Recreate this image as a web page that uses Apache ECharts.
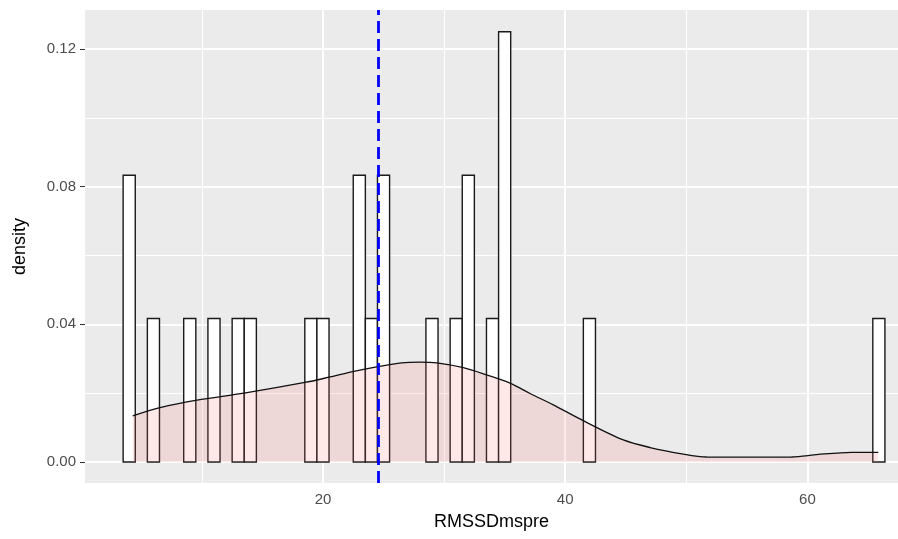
<!DOCTYPE html>
<html>
<head>
<meta charset="utf-8">
<script src="https://cdn.jsdelivr.net/npm/echarts@6/dist/echarts.min.js"></script>
<style>
  html, body { margin: 0; padding: 0; background: #fff; }
  #chart { width: 898px; height: 539px; }
</style>
</head>
<body>
<div id="chart"></div>
<script>
// histogram bins (binwidth 1), y = density
const binCenters = [4, 6, 9, 11, 13, 14, 19, 20, 23, 24, 25, 29, 31, 32, 34, 35, 42, 65.9]
const binDensity = [0.0833, 0.0417, 0.0417, 0.0417, 0.0417, 0.0417, 0.0417, 0.0417, 0.0833, 0.0417, 0.0833, 0.0417, 0.0417, 0.0833, 0.0417, 0.125, 0.0417, 0.0417]
const binWidth = 1

// kernel density curve
const densX = [4.29, 6.54, 9.60, 13.48, 18.51, 20.58, 22.54, 24.54, 26.50, 28.0, 29.39, 31.59, 33.5, 35.44, 37.1, 39.02, 41.49, 44.80, 47.01, 49.75, 51.68, 55.0, 58.70, 60.90, 63.66, 65.85]
const densY = [0.0134, 0.0158, 0.0180, 0.0200, 0.0231, 0.0247, 0.0263, 0.0277, 0.0288, 0.0290, 0.0288, 0.0274, 0.0253, 0.0229, 0.0199, 0.0166, 0.0120, 0.0064, 0.0042, 0.0023, 0.00145, 0.0014, 0.00145, 0.0022, 0.0028, 0.0028]

const meanValue = 24.54

// axis ticks
const xTicks = [20, 40, 60]
const xMinor = [10, 30, 50]
const yTicks = [0, 0.04, 0.08, 0.12]
const yMinor = [0.02, 0.06, 0.10]

const chart = echarts.init(document.getElementById('chart'))

const textFont = 'Liberation Sans, Arial, sans-serif'

let gridLines = []
xTicks.forEach(v => gridLines.push({ xAxis: v, lineStyle: { width: 2 } }))
xMinor.forEach(v => gridLines.push({ xAxis: v, lineStyle: { width: 1 } }))
yTicks.forEach(v => gridLines.push({ yAxis: v, lineStyle: { width: 2 } }))
yMinor.forEach(v => gridLines.push({ yAxis: v, lineStyle: { width: 1 } }))

chart.setOption({
  animation: false,
  grid: {
    left: 85,
    right: 0,
    top: 10,
    bottom: 56,
    show: true,
    backgroundColor: '#EBEBEB',
    borderWidth: 0
  },
  xAxis: {
    type: 'value',
    min: 0.35,
    max: 67.48,
    name: 'RMSSDmspre',
    nameLocation: 'middle',
    nameGap: 30,
    nameTextStyle: { color: '#000', fontSize: 18, fontFamily: textFont },
    axisLine: { show: false },
    axisTick: { show: true, customValues: xTicks, length: 5, lineStyle: { color: '#333', width: 1 } },
    axisLabel: { customValues: xTicks, color: '#4D4D4D', fontSize: 15, margin: 9, fontFamily: textFont },
    splitLine: { show: false }
  },
  yAxis: {
    type: 'value',
    min: -0.0061,
    max: 0.1313,
    name: 'density',
    nameLocation: 'middle',
    nameGap: 56,
    nameRotate: 90,
    nameTextStyle: { color: '#000', fontSize: 18, fontFamily: textFont },
    axisLine: { show: false },
    axisTick: { show: true, customValues: yTicks, length: 5, lineStyle: { color: '#333', width: 1 } },
    axisLabel: {
      customValues: yTicks,
      color: '#4D4D4D',
      fontSize: 15,
      margin: 9,
      fontFamily: textFont,
      formatter: v => v.toFixed(2)
    },
    splitLine: { show: false }
  },
  series: [
    {
      // panel grid lines
      type: 'line',
      data: [],
      silent: true,
      markLine: {
        silent: true,
        z: 1,
        symbol: 'none',
        label: { show: false },
        lineStyle: { color: '#FFFFFF', type: 'solid' },
        data: gridLines
      }
    },
    {
      type: 'custom',
      z: 2,
      data: binCenters.map((c, i) => [c, binDensity[i]]),
      renderItem: (params, api) => {
        let x = api.value(0)
        let d = api.value(1)
        let p0 = api.coord([x - binWidth / 2, 0])
        let p1 = api.coord([x + binWidth / 2, d])
        return {
          type: 'rect',
          shape: { x: p0[0], y: p1[1], width: p1[0] - p0[0], height: p0[1] - p1[1] },
          style: { fill: '#FFFFFF', stroke: '#1a1a1a', lineWidth: 1.4 }
        }
      }
    },
    {
      type: 'line',
      z: 3,
      data: densX.map((x, i) => [x, densY[i]]),
      showSymbol: false,
      smooth: 0.3,
      lineStyle: { color: '#111', width: 1.3 },
      areaStyle: { color: 'rgba(255,102,102,0.22)', origin: 0 },
      markLine: {
        silent: true,
        z: 10,
        symbol: 'none',
        label: { show: false },
        lineStyle: { color: '#0000FF', width: 2.8, type: [12, 6] },
        data: [{ xAxis: meanValue }]
      }
    }
  ]
})
</script>
</body>
</html>
